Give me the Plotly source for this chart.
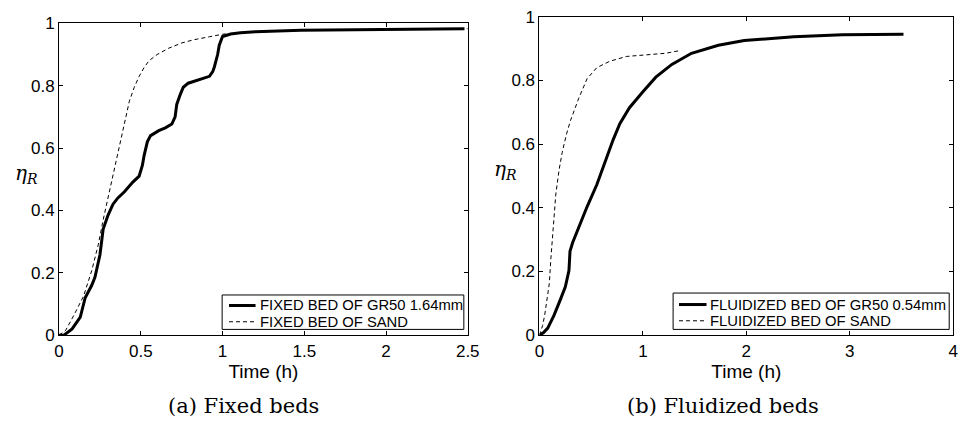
import plotly.graph_objects as go

# (a) Fixed beds
fixed_gr50_t = [0.0, 0.03, 0.08, 0.13, 0.16, 0.2, 0.22, 0.25, 0.27, 0.3, 0.33, 0.36, 0.4, 0.45, 0.49, 0.51, 0.52, 0.54, 0.56, 0.61, 0.65, 0.69, 0.71, 0.72, 0.74, 0.76, 0.79, 0.83, 0.88, 0.92, 0.94, 0.95, 0.97, 0.98, 1.0, 1.05, 1.11, 1.2, 1.48, 2.0, 2.48]
fixed_gr50_eta = [0.0, 0.0, 0.02, 0.058, 0.12, 0.16, 0.186, 0.257, 0.34, 0.385, 0.42, 0.44, 0.46, 0.49, 0.51, 0.545, 0.575, 0.62, 0.64, 0.656, 0.665, 0.677, 0.7, 0.74, 0.77, 0.795, 0.808, 0.815, 0.822, 0.83, 0.845, 0.86, 0.9, 0.93, 0.958, 0.966, 0.97, 0.973, 0.978, 0.981, 0.983]
fixed_sand_t = [0.0, 0.04, 0.09, 0.15, 0.2, 0.24, 0.27, 0.3, 0.33, 0.36, 0.38, 0.41, 0.43, 0.46, 0.49, 0.52, 0.55, 0.6, 0.67, 0.75, 0.83, 0.92, 1.0, 1.1, 1.5, 2.0, 2.5]
fixed_sand_eta = [0.0, 0.015, 0.063, 0.125, 0.207, 0.29, 0.37, 0.44, 0.51, 0.58, 0.635, 0.7, 0.75, 0.795, 0.83, 0.858, 0.88, 0.9, 0.92, 0.937, 0.948, 0.957, 0.965, 0.97, 0.978, 0.981, 0.983]

# (b) Fluidized beds
fluid_gr50_t = [0.0, 0.04, 0.08, 0.14, 0.2, 0.25, 0.285, 0.295, 0.32, 0.36, 0.46, 0.555, 0.634, 0.713, 0.777, 0.87, 1.0, 1.125, 1.28, 1.47, 1.73, 1.98, 2.46, 2.93, 3.52]
fluid_gr50_eta = [0.0, 0.008, 0.022, 0.062, 0.11, 0.152, 0.203, 0.263, 0.29, 0.323, 0.403, 0.473, 0.544, 0.614, 0.664, 0.714, 0.764, 0.81, 0.85, 0.885, 0.91, 0.925, 0.937, 0.943, 0.945]
fluid_sand_t = [0.0, 0.03, 0.05, 0.075, 0.095, 0.11, 0.127, 0.158, 0.19, 0.22, 0.26, 0.3, 0.38, 0.46, 0.555, 0.68, 0.84, 1.03, 1.22, 1.35]
fluid_sand_eta = [0.0, 0.03, 0.062, 0.11, 0.162, 0.24, 0.323, 0.443, 0.52, 0.574, 0.63, 0.674, 0.744, 0.805, 0.84, 0.86, 0.875, 0.88, 0.885, 0.893]

fixed_names = ["FIXED BED OF GR50 1.64mm", "FIXED BED OF SAND"]
fluid_names = ["FLUIDIZED BED OF GR50 0.54mm", "FLUIDIZED BED OF SAND"]

fixed_x_ticks = [0, 0.5, 1, 1.5, 2, 2.5]
fixed_x_labels = ["0", "0.5", "1", "1.5", "2", "2.5"]
fluid_x_ticks = [0, 1, 2, 3, 4]
fluid_x_labels = ["0", "1", "2", "3", "4"]
y_ticks = [0, 0.2, 0.4, 0.6, 0.8, 1]
y_labels = ["0", "0.2", "0.4", "0.6", "0.8", "1"]

W, H = 972, 436
SANS = "Liberation Sans, Arial, sans-serif"
SERIF = "DejaVu Serif, serif"
SOLID = dict(color="black", width=3)
DASHED = dict(color="black", width=1, dash="4px,3px")


def px(x):
    return x / W


def py(y):
    return 1 - y / H


fig = go.Figure()
fig.add_trace(go.Scatter(x=fixed_gr50_t, y=fixed_gr50_eta, mode="lines", name=fixed_names[0],
                         line=SOLID, xaxis="x", yaxis="y"))
fig.add_trace(go.Scatter(x=fixed_sand_t, y=fixed_sand_eta, mode="lines", name=fixed_names[1],
                         line=DASHED, xaxis="x", yaxis="y"))
fig.add_trace(go.Scatter(x=fluid_gr50_t, y=fluid_gr50_eta, mode="lines", name=fluid_names[0],
                         line=SOLID, xaxis="x2", yaxis="y2"))
fig.add_trace(go.Scatter(x=fluid_sand_t, y=fluid_sand_eta, mode="lines", name=fluid_names[1],
                         line=DASHED, xaxis="x2", yaxis="y2"))

axis_common = dict(showline=True, linecolor="black", linewidth=1, mirror="ticks",
                   ticks="inside", ticklen=4, tickcolor="black", showgrid=False,
                   zeroline=False, tickfont=dict(family=SANS, size=17, color="black"))
title_font = dict(family=SANS, size=19, color="black")

fig.update_layout(
    width=W, height=H, margin=dict(l=0, r=0, t=0, b=0),
    paper_bgcolor="white", plot_bgcolor="white", showlegend=False,
    xaxis=dict(domain=[px(55), px(471)], range=[0, 2.5], tickvals=fixed_x_ticks, ticktext=fixed_x_labels,
               title=dict(text="Time (h)", font=title_font, standoff=2), anchor="y", **axis_common),
    yaxis=dict(domain=[py(341), py(15)], range=[0, 1], tickvals=y_ticks, ticktext=y_labels,
               anchor="x", **axis_common),
    xaxis2=dict(domain=[px(544), px(965)], range=[0, 4], tickvals=fluid_x_ticks, ticktext=fluid_x_labels,
                title=dict(text="Time (h)", font=title_font, standoff=2), anchor="y2", **axis_common),
    yaxis2=dict(domain=[py(341), py(8)], range=[0, 1], tickvals=y_ticks, ticktext=y_labels,
                anchor="x2", **axis_common),
)

# Compact MATLAB-style legend boxes
legend_font = dict(family=SANS, size=14.8, color="black")
legends = [
    # box x0, x1, y0, y1, line x0, x1, text x, row ys, names
    (221, 467, 299, 335, 228, 255, 258, [310, 327], fixed_names),
    (680, 961, 297, 335, 686, 714, 716, [309, 326], fluid_names),
]
for bx0, bx1, by0, by1, lx0, lx1, tx, rows, names in legends:
    fig.add_shape(type="rect", xref="paper", yref="paper", x0=px(bx0), x1=px(bx1), y0=py(by1), y1=py(by0),
                  line=dict(color="black", width=1), fillcolor="white", layer="above")
    for ry, name, style in zip(rows, names, [SOLID, DASHED]):
        fig.add_shape(type="line", xref="paper", yref="paper", x0=px(lx0), x1=px(lx1), y0=py(ry), y1=py(ry),
                      line=style, layer="above")
        fig.add_annotation(text=name, x=px(tx), y=py(ry), xref="paper", yref="paper", showarrow=False,
                           xanchor="left", yanchor="middle", font=legend_font)

fig.add_annotation(text="(a) Fixed beds", x=px(243), y=py(415), xref="paper", yref="paper",
                   showarrow=False, font=dict(family=SERIF, size=21, color="black"), xanchor="center", yanchor="middle")
fig.add_annotation(text="(b) Fluidized beds", x=px(731), y=py(415), xref="paper", yref="paper",
                   showarrow=False, font=dict(family=SERIF, size=21, color="black"), xanchor="center", yanchor="middle")
fig.add_annotation(text="<i>η</i><sub><i>R</i></sub>", x=px(22), y=py(173), xref="paper", yref="paper",
                   showarrow=False, font=dict(family=SERIF, size=20, color="black"), xanchor="center", yanchor="middle")
fig.add_annotation(text="<i>η</i><sub><i>R</i></sub>", x=px(509), y=py(168), xref="paper", yref="paper",
                   showarrow=False, font=dict(family=SERIF, size=20, color="black"), xanchor="center", yanchor="middle")

fig.write_html("out.html")
